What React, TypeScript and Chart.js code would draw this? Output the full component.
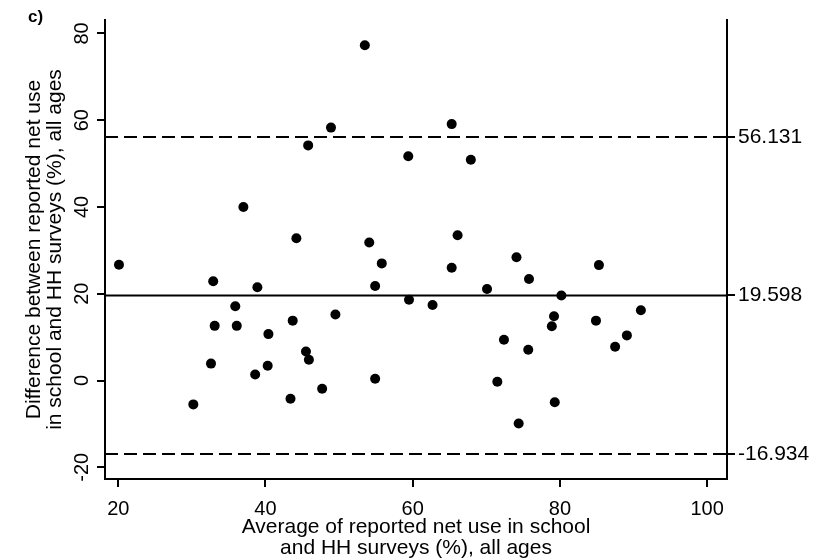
import React, { useEffect, useRef } from 'react';
import { Chart, registerables } from 'chart.js';

Chart.register(...registerables);

// Average of reported net use (x) and difference (y) for each site
const AVERAGE = [
  20.1, 30.2, 32.6, 32.9, 33.1, 35.9, 36.1, 37.0, 38.6, 38.9,
  40.3, 40.4, 43.4, 43.7, 44.2, 45.5, 45.8, 45.9, 47.7, 48.9,
  49.5, 53.5, 54.1, 54.9, 54.9, 55.8, 59.4, 59.5, 62.7, 65.3,
  65.3, 66.1, 67.9, 70.1, 71.5, 72.4, 74.1, 74.4, 75.7, 75.8,
  78.9, 79.2, 79.3, 80.2, 84.9, 85.3, 87.5, 89.1, 91.0,
];
const DIFFERENCE = [
  26.7, -5.5, 3.9, 22.9, 12.6, 17.1, 12.6, 40.0, 1.4, 21.5,
  3.4, 10.7, -4.2, 13.8, 32.8, 6.7, 54.2, 4.8, -1.9, 58.3,
  15.2, 77.3, 31.8, 21.8, 0.4, 27.0, 51.7, 18.6, 17.4, 59.1,
  26.0, 33.5, 50.9, 21.1, -0.3, 9.4, 28.4, -9.9, 7.1, 23.4,
  12.5, 14.8, -5.0, 19.6, 13.8, 26.6, 7.8, 10.4, 16.2,
];

const MEAN_DIFF = 19.598;
const UPPER_LIMIT = 56.131;
const LOWER_LIMIT = -16.934;
const RIGHT_TICKS = [UPPER_LIMIT, MEAN_DIFF, LOWER_LIMIT];

const X_TICKS = [20, 40, 60, 80, 100];
const Y_TICKS = [-20, 0, 20, 40, 60, 80];
const X_MIN = 18.2;
const X_MAX = 102.7;
const Y_MIN = -22.7;
const Y_MAX = 83.1;

const PANEL_LABEL = 'c)';
const X_TITLE = ['Average of reported net use in school', 'and HH surveys (%), all ages'];
const Y_TITLE = ['Difference between reported net use', 'in school and HH surveys (%), all ages'];

const FONT = "'Liberation Sans', Arial, Helvetica, sans-serif";

const panelLabelPlugin = {
  id: 'panelLabel',
  afterDraw(chart: any) {
    const ctx = chart.ctx;
    ctx.save();
    ctx.font = `bold 17px ${FONT}`;
    ctx.fillStyle = '#000';
    ctx.textBaseline = 'middle';
    ctx.textAlign = 'left';
    ctx.fillText(PANEL_LABEL, 28, 17);
    ctx.restore();
  },
};

export default function App() {
  const ref = useRef<HTMLCanvasElement | null>(null);

  useEffect(() => {
    if (!ref.current) return;
    const points = AVERAGE.map((x, i) => ({ x, y: DIFFERENCE[i] }));
    const hline = (v: number) => [
      { x: X_MIN, y: v },
      { x: X_MAX, y: v },
    ];
    const axisGrid = {
      drawOnChartArea: false,
      drawTicks: true,
      tickLength: 8,
      color: '#000',
      lineWidth: 2,
    };
    const border = { display: true, color: '#000', width: 2 };

    const chart = new Chart(ref.current, {
      type: 'scatter',
      data: {
        datasets: [
          {
            label: 'Sites',
            data: points,
            backgroundColor: '#000',
            borderColor: '#000',
            borderWidth: 0,
            pointRadius: 5,
            pointHoverRadius: 5,
            showLine: false,
          },
          {
            label: 'Mean difference',
            data: hline(MEAN_DIFF),
            showLine: true,
            borderColor: '#000',
            borderWidth: 2,
            pointRadius: 0,
          },
          {
            label: 'Upper limit',
            data: hline(UPPER_LIMIT),
            showLine: true,
            borderColor: '#000',
            borderWidth: 2,
            borderDash: [13, 6],
            pointRadius: 0,
          },
          {
            label: 'Lower limit',
            data: hline(LOWER_LIMIT),
            showLine: true,
            borderColor: '#000',
            borderWidth: 2,
            borderDash: [13, 6],
            pointRadius: 0,
          },
        ] as any,
      },
      options: {
        responsive: false,
        animation: false,
        events: [],
        layout: { padding: { top: 20, left: 0, right: 0, bottom: 0 } },
        plugins: {
          legend: { display: false },
          tooltip: { enabled: false },
          title: { display: false },
        },
        scales: {
          x: {
            type: 'linear',
            position: 'bottom',
            min: X_MIN,
            max: X_MAX,
            grid: axisGrid,
            border,
            afterBuildTicks: (s: any) => {
              s.ticks = X_TICKS.map((v) => ({ value: v }));
            },
            afterFit: (s: any) => {
              s.height = 81;
            },
            ticks: {
              autoSkip: false,
              maxRotation: 0,
              minRotation: 0,
              padding: 10,
              color: '#000',
              font: { family: FONT, size: 20 },
              callback: (v: any) => String(v),
            },
            title: {
              display: true,
              text: X_TITLE,
              color: '#000',
              font: { family: FONT, size: 21, lineHeight: 1.0 },
              padding: { top: 0, bottom: 1 },
            },
          },
          y: {
            type: 'linear',
            position: 'left',
            min: Y_MIN,
            max: Y_MAX,
            grid: axisGrid,
            border,
            afterBuildTicks: (s: any) => {
              s.ticks = Y_TICKS.map((v) => ({ value: v }));
            },
            afterFit: (s: any) => {
              s.width = 105;
            },
            ticks: {
              autoSkip: false,
              minRotation: 90,
              maxRotation: 90,
              crossAlign: 'center',
              padding: 0,
              color: '#000',
              font: { family: FONT, size: 20 },
              callback: (v: any) => String(v),
            },
            title: {
              display: true,
              text: Y_TITLE,
              color: '#000',
              font: { family: FONT, size: 21, lineHeight: 1.0 },
              padding: { top: 24, bottom: 0 },
            },
          },
          y2: {
            type: 'linear',
            position: 'right',
            min: Y_MIN,
            max: Y_MAX,
            grid: axisGrid,
            border,
            afterBuildTicks: (s: any) => {
              s.ticks = RIGHT_TICKS.map((v) => ({ value: v }));
            },
            afterFit: (s: any) => {
              s.width = 98;
            },
            ticks: {
              autoSkip: false,
              padding: 3,
              color: '#000',
              font: { family: FONT, size: 21 },
              callback: (v: any) => Number(v).toFixed(3),
            },
          },
        },
      } as any,
      plugins: [panelLabelPlugin],
    });

    return () => chart.destroy();
  }, []);

  return (
    <div style={{ position: 'fixed', left: 0, top: 0, width: 825, height: 560, background: '#fff' }}>
      <canvas ref={ref} width={825} height={560} style={{ display: 'block' }} />
    </div>
  );
}
